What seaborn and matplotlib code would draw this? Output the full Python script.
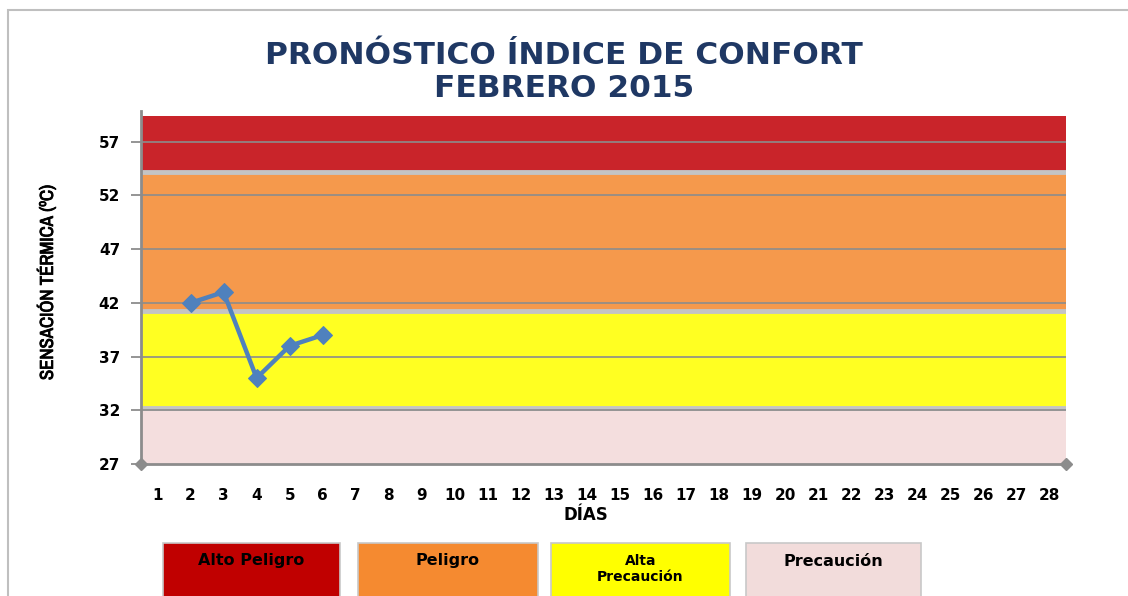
import matplotlib
matplotlib.use("Agg")
import matplotlib.pyplot as plt
from matplotlib.patches import Rectangle
from matplotlib import font_manager, patheffects
import seaborn as sns
import pandas as pd

days = list(range(1, 29))
day_labels = [str(d) for d in days]
obs_days = [2, 3, 4, 5, 6]
obs_temp = [42, 43, 35, 38, 39]

# comfort bands (ºC)
band_names = ["Precaución", "Alta Precaución", "Peligro", "Alto Peligro"]
band_low = [27, 32.25, 41.2, 54.2]
band_high = [32.25, 41.2, 54.2, 59.4]
band_fill = ["#F4DEDE", "#FFFF22", "#F5994C", "#C9242A"]
legend_fill = ["#F2DCDB", "#FFFF00", "#F58A30", "#C00000"]
yticks = [27, 32, 37, 42, 47, 52, 57]

sns.set_theme(style="white")
plt.rcParams["font.family"] = ["DejaVu Sans"]
plt.rcParams["text.color"] = "black"
plt.rcParams["axes.labelcolor"] = "black"
plt.rcParams["xtick.color"] = "black"
plt.rcParams["ytick.color"] = "black"

narrow = sorted({f.name for f in font_manager.fontManager.ttflist
                 if "Narrow" in f.name or "Condensed" in f.name})

fig = plt.figure(figsize=(11.28, 5.96), dpi=100)
ax = fig.add_axes([0.125, 0.2215, 0.82, 0.5839])

for lo, hi, c in zip(band_low, band_high, band_fill):
    ax.fill_between([0.5, 28.5], lo, hi, color=c, lw=0, zorder=0.2)
for lo in band_low[1:]:
    ax.axhline(lo, color="#C4C4C4", lw=3.5, zorder=0.3)

for y in yticks[1:]:
    ax.axhline(y, color="#8C8C8C", lw=1.2, zorder=0.6)

df = pd.DataFrame({"dia": obs_days, "temp": obs_temp})
sns.lineplot(data=df, x="dia", y="temp", ax=ax, color="#4F81BD", lw=3.2,
             marker="D", markersize=9.5, markeredgecolor="#4F81BD", zorder=3)

ax.set_xlim(0.5, 28.5)
ax.set_ylim(27, 59.4)
ax.set_yticks(yticks)
ax.set_yticklabels([str(v) for v in yticks], fontsize=11, fontweight="bold")
ax.set_xticks(days)
ax.set_xticklabels(day_labels, fontsize=11, fontweight="bold")
ax.tick_params(axis="x", length=0, pad=17)
ax.tick_params(axis="y", length=7, width=1.3, color="#8C8C8C", direction="out", pad=8, left=True)

for s in ["top", "right"]:
    ax.spines[s].set_visible(False)
for s in ["left", "bottom"]:
    ax.spines[s].set_color("#8C8C8C")
    ax.spines[s].set_linewidth(2)
ax.spines["left"].set_bounds(27, 59.9)
ax.plot([0.5, 28.5], [27, 27], ls="none", marker="D", color="#8C8C8C",
        markersize=6, clip_on=False, zorder=4)

ax.set_xlabel("DÍAS", fontsize=12, fontweight="bold", labelpad=2)
if narrow:
    ylab = ax.set_ylabel("SENSACIÓN TÉRMICA (ºC)", fontsize=13.5,
                         family=[narrow[0], "DejaVu Sans"], labelpad=26)
    ylab.set_path_effects([patheffects.withStroke(linewidth=0.6, foreground="black")])
else:
    ax.set_ylabel("SENSACIÓN TÉRMICA (ºC)", fontsize=10.5, fontweight="bold", labelpad=24)
ax.yaxis.set_label_coords(-0.092, 0.52)
ax.xaxis.set_label_coords(0.481, -0.12)

fig.text(0.5, 0.907, "PRONÓSTICO ÍNDICE DE CONFORT", ha="center", va="center",
         fontsize=22.5, fontweight="bold", color="#1F3864")
fig.text(0.5, 0.852, "FEBRERO 2015", ha="center", va="center",
         fontsize=22.5, fontweight="bold", color="#1F3864")

# chart frame
fig.patches.append(Rectangle((8 / 1128, -0.1), 1.2, 1.1 - 10 / 596,
                             transform=fig.transFigure, fill=False,
                             ec="#BFBFBF", lw=1.5))

# legend boxes
boxes = [(163, 340), (358, 538), (551, 730), (746, 921)]
legend_order = [3, 2, 1, 0]
for (x0, x1), i in zip(boxes, legend_order):
    fig.patches.append(Rectangle((x0 / 1128, -0.05), (x1 - x0) / 1128, 0.05 + 1 - 543 / 596,
                                 transform=fig.transFigure, fc=legend_fill[i],
                                 ec="#C8C8C8", lw=1.2))
    label = band_names[i]
    if label == "Alta Precaución":
        fig.text((x0 + x1) / 2 / 1128, 1 - 569 / 596, "Alta\nPrecaución", ha="center",
                 va="center", fontsize=10, fontweight="bold", linespacing=1.1, color="black")
    else:
        fig.text((x0 + x1) / 2 / 1128, 1 - 561 / 596, label, ha="center",
                 va="center", fontsize=11.5, fontweight="bold", color="black")

fig.savefig("out.png", dpi=100)
